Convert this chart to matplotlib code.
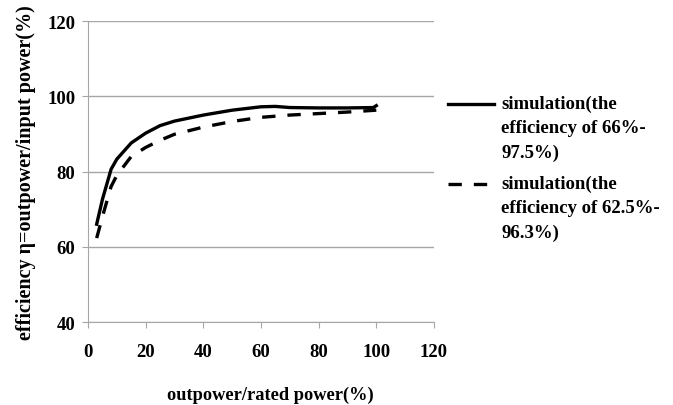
import numpy as np
import matplotlib
matplotlib.use("Agg")
import matplotlib.pyplot as plt

plt.rcParams['font.family'] = ['Liberation Serif', 'DejaVu Serif']
plt.rcParams['font.weight'] = 'bold'

# solid curve: simulation 66%-97.5%
x_sim1 = [3, 5, 8, 10, 15, 20, 25, 30, 40, 50, 60, 65, 70, 80, 90, 99, 100]
y_sim1 = [66.0, 72.6, 80.6, 83.3, 87.6, 90.2, 92.2, 93.4, 95.0, 96.3, 97.2, 97.3, 97.0, 96.9, 96.9, 97.0, 97.5]
# dashed curve: simulation 62.5%-96.3%
x_sim2 = [3, 5, 8, 10, 15, 20, 25, 30, 40, 50, 60, 70, 80, 90, 100]
y_sim2 = [62.3, 68.0, 76.0, 79.0, 84.0, 86.4, 88.3, 89.9, 91.8, 93.3, 94.4, 95.0, 95.4, 95.8, 96.3]

labels = ["simulation(the\nefficiency of 66%-\n97.5%)",
          "simulation(the\nefficiency of 62.5%-\n96.3%)"]

fig = plt.figure(figsize=(6.73, 4.06), dpi=100)
ax = fig.add_axes([0.1308, 0.2044, 0.514, 0.7414])

ax.plot(x_sim1, y_sim1, color='black', lw=2.4, label=labels[0])
ax.plot(x_sim2, y_sim2, color='black', lw=2.4, ls=(0, (4, 3.6)), label=labels[1])

ax.set_xlim(0, 120)
ax.set_ylim(40, 120)
ax.set_xticks(np.arange(0, 121, 20))
ax.set_yticks(np.arange(40, 121, 20))
ax.grid(axis='y', color='#a6a6a6', lw=1)
ax.set_axisbelow(True)
for s in ['top', 'right']:
    ax.spines[s].set_visible(False)
for s in ['left', 'bottom']:
    ax.spines[s].set_color('#a6a6a6')
ax.tick_params(direction='out', length=4, color='#a6a6a6', labelsize=13.5, pad=5)
ax.tick_params(axis='x', pad=11)
for t in ax.get_xticklabels() + ax.get_yticklabels():
    t.set_fontweight('bold')

ax.set_xlabel("outpower/rated power(%)", fontsize=13.2, fontweight='bold')
ax.xaxis.set_label_coords(0.526, -0.213)
ax.set_ylabel("efficiency η=outpower/input power(%)", fontsize=14.5, fontweight='bold', labelpad=8)

leg = ax.legend(loc='upper left', bbox_to_anchor=(0.991, 0.81), frameon=False,
                handlelength=2.45, labelspacing=0.75, handletextpad=0.4,
                prop={'weight': 'bold', 'size': 13.5})
for t in leg.get_texts():
    t.set_linespacing(1.54)
# put each legend line on the first text row, as in the original
for h in leg.legend_handles:
    h.set_ydata(np.asarray(h.get_ydata()) + 17.3)

fig.savefig("out.png", dpi=100)
